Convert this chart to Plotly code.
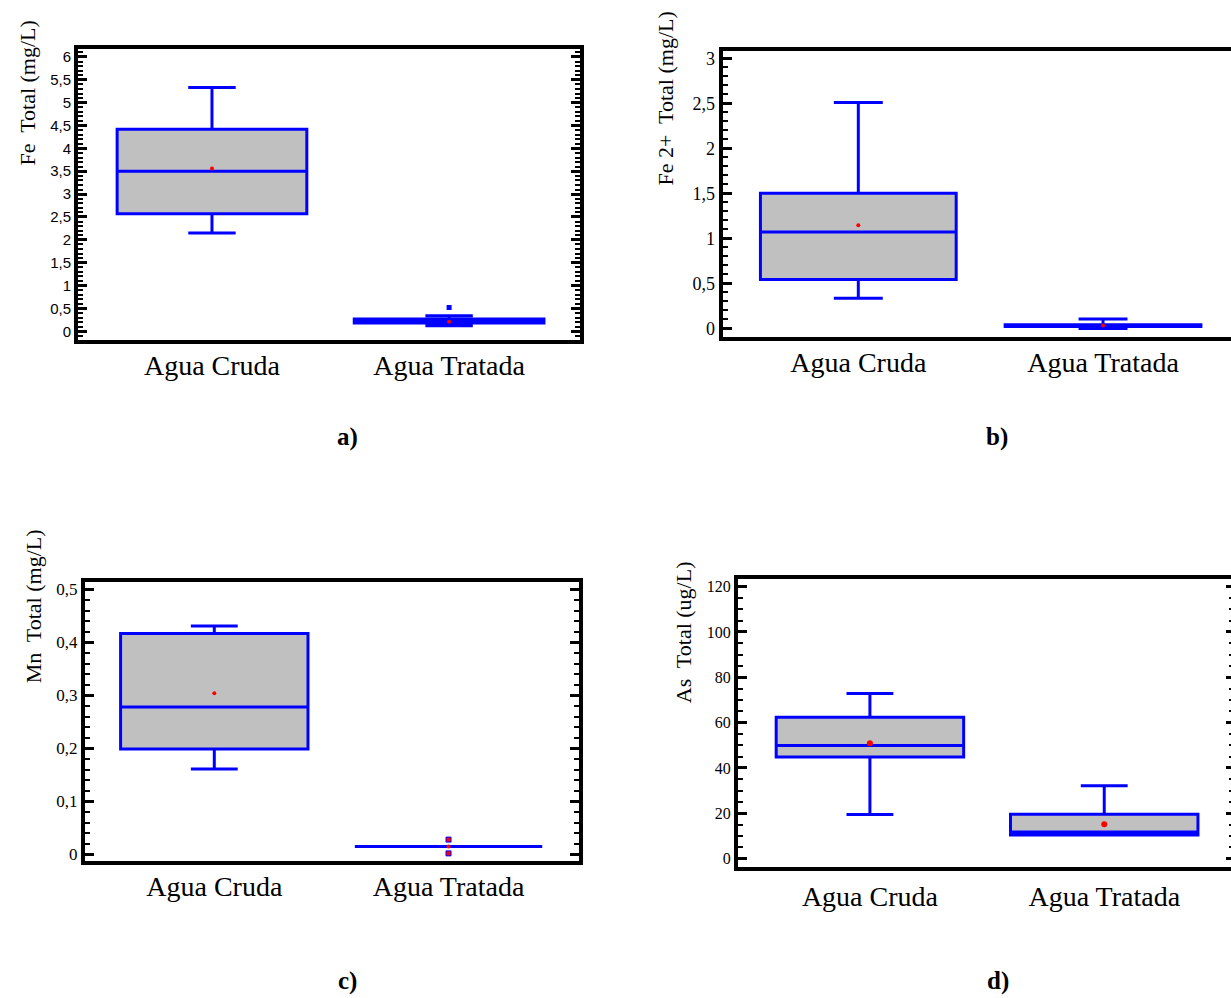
import plotly.graph_objects as go

W, H = 1231, 998
cats = ["Agua Cruda", "Agua Tratada"]

# ---- data ----
fe_lf = [2.15, 0.12]; fe_q1 = [2.57, 0.18]; fe_med = [3.50, 0.21]; fe_q3 = [4.42, 0.27]; fe_uf = [5.33, 0.34]
fe_mean = [3.56, 0.21]; fe_out_x = ["Agua Tratada"]; fe_out_y = [0.52]

fe2_lf = [0.335, 0.0]; fe2_q1 = [0.545, 0.022]; fe2_med = [1.07, 0.03]; fe2_q3 = [1.50, 0.04]; fe2_uf = [2.51, 0.106]
fe2_mean = [1.145, 0.032]

mn_lf = [0.161, 0.015]; mn_q1 = [0.199, 0.015]; mn_med = [0.278, 0.015]; mn_q3 = [0.417, 0.015]; mn_uf = [0.431, 0.015]
mn_mean = [0.304, 0.015]; mn_out_x = ["Agua Tratada", "Agua Tratada"]; mn_out_y = [0.028, 0.002]

as_lf = [19.5, 10.4]; as_q1 = [44.8, 10.4]; as_med = [49.9, 11.7]; as_q3 = [62.4, 19.6]; as_uf = [72.9, 32.2]
as_mean = [50.9, 15.2]

fe_ticks = [0, 0.5, 1, 1.5, 2, 2.5, 3, 3.5, 4, 4.5, 5, 5.5, 6]
fe_ticktext = ["0", "0,5", "1", "1,5", "2", "2,5", "3", "3,5", "4", "4,5", "5", "5,5", "6"]
fe2_ticks = [0, 0.5, 1, 1.5, 2, 2.5, 3]
fe2_ticktext = ["0", "0,5", "1", "1,5", "2", "2,5", "3"]
mn_ticks = [0, 0.1, 0.2, 0.3, 0.4, 0.5]
mn_ticktext = ["0", "0,1", "0,2", "0,3", "0,4", "0,5"]
as_ticks = [0, 20, 40, 60, 80, 100, 120]
as_ticktext = ["0", "20", "40", "60", "80", "100", "120"]

BLUE = "#0000FF"
GRAY = "#C0C0C0"
RED = "#FF0000"
SERIF = "Liberation Serif, Times New Roman, serif"
SANS = "Liberation Sans, Arial, sans-serif"

fig = go.Figure()

def add_boxes(xa, ya, lf, q1, med, q3, uf):
    for i, c in enumerate(cats):
        fig.add_trace(go.Box(
            x=[c], q1=[q1[i]], median=[med[i]], q3=[q3[i]],
            lowerfence=[lf[i]], upperfence=[uf[i]],
            width=0.8, whiskerwidth=0.25, boxpoints=False,
            fillcolor=GRAY, line=dict(color=BLUE, width=3),
            xaxis=xa, yaxis=ya, showlegend=False, hoverinfo="skip"))

def add_mean(xa, ya, means, size=5):
    fig.add_trace(go.Scatter(x=cats, y=means, mode="markers",
                             marker=dict(color=RED, size=size, symbol="circle"),
                             xaxis=xa, yaxis=ya, showlegend=False, hoverinfo="skip"))

add_boxes("x", "y", fe_lf, fe_q1, fe_med, fe_q3, fe_uf)
add_mean("x", "y", fe_mean, 4)
fig.add_trace(go.Scatter(x=fe_out_x, y=fe_out_y, mode="markers",
                         marker=dict(color=BLUE, size=5, symbol="square"),
                         xaxis="x", yaxis="y", showlegend=False, hoverinfo="skip"))

add_boxes("x2", "y2", fe2_lf, fe2_q1, fe2_med, fe2_q3, fe2_uf)
add_mean("x2", "y2", fe2_mean, 4)

add_boxes("x3", "y3", mn_lf, mn_q1, mn_med, mn_q3, mn_uf)
add_mean("x3", "y3", mn_mean, 4)
fig.add_trace(go.Scatter(x=mn_out_x, y=mn_out_y, mode="markers",
                         marker=dict(color=RED, size=5, symbol="square", line=dict(color=BLUE, width=1)),
                         xaxis="x3", yaxis="y3", showlegend=False, hoverinfo="skip"))

add_boxes("x4", "y4", as_lf, as_q1, as_med, as_q3, as_uf)
add_mean("x4", "y4", as_mean, 6)
# invisible trace to carry the right-side tick axis of panel d
fig.add_trace(go.Scatter(x=cats, y=as_mean, mode="markers", marker=dict(opacity=0),
                         xaxis="x4", yaxis="y5", showlegend=False, hoverinfo="skip"))

def px_x(p):
    return p / W

def px_y(p):
    return 1 - p / H

def xaxis_cfg(dom, rng, anchor, tfs, standoff=0):
    return dict(domain=dom, range=rng, type="category", anchor=anchor,
                showline=True, linecolor="black", linewidth=4, mirror=True,
                ticks="", showgrid=False, zeroline=False, ticklabelstandoff=standoff,
                tickfont=dict(family=SERIF, size=tfs, color="black"),
                fixedrange=True)

def yaxis_cfg(dom, rng, anchor, tv, tt, minor_dt, tfont, mirror):
    return dict(domain=dom, range=rng, anchor=anchor,
                showline=True, linecolor="black", linewidth=4, mirror=mirror,
                ticks="inside", ticklen=9, tickwidth=3, tickcolor="black",
                tickvals=tv, ticktext=tt,
                minor=dict(dtick=minor_dt, ticks="inside", ticklen=5, tickwidth=2, tickcolor="black", showgrid=False),
                showgrid=False, zeroline=False, tickfont=tfont, fixedrange=True)

fig.update_layout(
    width=W, height=H, margin=dict(l=0, r=0, t=0, b=0),
    paper_bgcolor="white", plot_bgcolor="white", showlegend=False,
    xaxis=xaxis_cfg([px_x(78), px_x(580)], [-0.565, 1.552], "y", 28, -3),
    yaxis=yaxis_cfg([px_y(340), px_y(47)], [-0.19, 6.18], "x", fe_ticks, fe_ticktext, 0.1,
                    dict(family=SANS, size=15, color="black"), "ticks"),
    xaxis2=xaxis_cfg([px_x(722.5), 1.0], [-0.555, 1.523], "y2", 28, -3),
    yaxis2=yaxis_cfg([px_y(337.5), px_y(49)], [-0.10, 3.084], "x2", fe2_ticks, fe2_ticktext, 0.1,
                     dict(family=SERIF, size=18, color="black"), False),
    xaxis3=xaxis_cfg([px_x(85), px_x(579)], [-0.552, 1.557], "y3", 28, -2),
    yaxis3=yaxis_cfg([px_y(864), px_y(583.5)], [-0.012, 0.514], "x3", mn_ticks, mn_ticktext, 0.02,
                     dict(family=SERIF, size=17, color="black"), "ticks"),
    xaxis4=xaxis_cfg([px_x(738), 1.0], [-0.563, 1.541], "y4", 28, 2),
    yaxis4=yaxis_cfg([px_y(870), px_y(580)], [-3.6, 123.6], "x4", as_ticks, as_ticktext, 5,
                     dict(family=SERIF, size=16, color="black"), False),
    yaxis5=dict(overlaying="y4", side="right", anchor="free", position=1.0,
                range=[-3.6, 123.6], showline=False, showgrid=False, zeroline=False,
                ticks="inside", ticklen=5, tickwidth=3, tickcolor="black",
                tickvals=as_ticks, showticklabels=False,
                minor=dict(dtick=5, ticks="inside", ticklen=2, tickwidth=2, tickcolor="black", showgrid=False),
                fixedrange=True),
)

ann = []
def ytitle(text, x, y, size=22):
    ann.append(dict(text=text, xref="paper", yref="paper", x=px_x(x), y=px_y(y),
                    xanchor="center", yanchor="middle", textangle=-90, showarrow=False,
                    font=dict(family=SERIF, size=size, color="black")))

ytitle("Fe  Total (mg/L)", 27, 92)
ytitle("Fe 2+  Total (mg/L)", 665, 97)
ytitle("Mn  Total (mg/L)", 33, 608)
ytitle("As  Total (ug/L)", 683, 634)

def plabel(text, x, y):
    ann.append(dict(text="<b>" + text + "</b>", xref="paper", yref="paper", x=px_x(x), y=px_y(y),
                    xanchor="center", yanchor="middle", showarrow=False,
                    font=dict(family=SERIF, size=25, color="black")))

plabel("a)", 347, 438)
plabel("b)", 997, 438)
plabel("c)", 347, 985)
plabel("d)", 998, 985)

fig.update_layout(annotations=ann)

fig.write_html("out.html", config=dict(displayModeBar=False))
